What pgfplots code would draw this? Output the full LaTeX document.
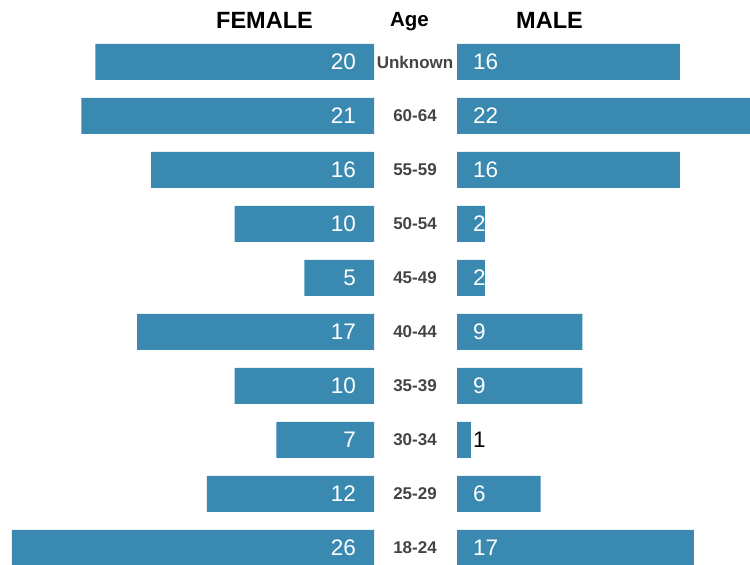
\documentclass[border=0pt]{standalone}
\usepackage{fontspec}
\setmainfont{Liberation Sans}
\usepackage{pgfplots}
\pgfplotsset{compat=1.18}
\usepackage{pgfplotstable}
\definecolor{barblue}{RGB}{58,137,176}
\definecolor{catgray}{RGB}{68,68,68}

\pgfplotstableread{
y f m
0 26 17
1 12 6
2 7 1
3 10 9
4 17 9
5 5 2
6 10 2
7 16 16
8 21 22
9 20 16
}\data

\pgfplotsset{pyr/.style={scale only axis, height=565pt, ymin=-0.315, ymax=10.148,
  xmin=0, bar width=36pt, axis line style={draw=none}, tick style={draw=none},
  xtick=\empty, anchor=south west}}

\begin{document}
\begin{tikzpicture}
\useasboundingbox (0,0) rectangle (750pt,565pt);
\begin{axis}[pyr, at={(0pt,0pt)}, width=374pt, xmax=26.85, x dir=reverse, ytick=\empty]
\addplot[xbar, fill=barblue, draw=none] table[x=f, y=y] {\data};
\addplot[draw=none, mark=none, point meta=explicit symbolic,
  nodes near coords={\pgfplotspointmeta},
  every node near coord/.append style={anchor=east, inner sep=0pt, xshift=-18pt, text=white, font=\fontsize{22.5}{22.5}\selectfont}]
  table[x expr=0, y=y, meta=f] {\data};
\end{axis}
\begin{axis}[pyr, at={(457pt,0pt)}, width=293pt, xmax=21.03,
  ytick={0,...,9},
  yticklabels={18-24,25-29,30-34,35-39,40-44,45-49,50-54,55-59,60-64,Unknown},
  yticklabel style={anchor=center, xshift=-42pt, font=\bfseries\fontsize{17}{17}\selectfont, text=catgray}]
\addplot[xbar, fill=barblue, draw=none] table[x=m, y=y] {\data};
\addplot[draw=none, mark=none, point meta=explicit symbolic,
  nodes near coords={\ifnum\pgfplotspointmeta=1 \textcolor{black}{\pgfplotspointmeta}\else\pgfplotspointmeta\fi},
  every node near coord/.append style={anchor=west, inner sep=0pt, xshift=16pt, text=white, font=\fontsize{22.5}{22.5}\selectfont}]
  table[x expr=0, y=y, meta=m] {\data};
\end{axis}
\node[anchor=base, font=\bfseries\fontsize{23.5}{23.5}\selectfont] at (264.5pt,536.7pt) {FEMALE};
\node[anchor=base, font=\bfseries\fontsize{20.5}{20.5}\selectfont] at (409.5pt,538.3pt) {Age};
\node[anchor=base, font=\bfseries\fontsize{23.5}{23.5}\selectfont] at (549.5pt,536.7pt) {MALE};
\end{tikzpicture}
\end{document}
